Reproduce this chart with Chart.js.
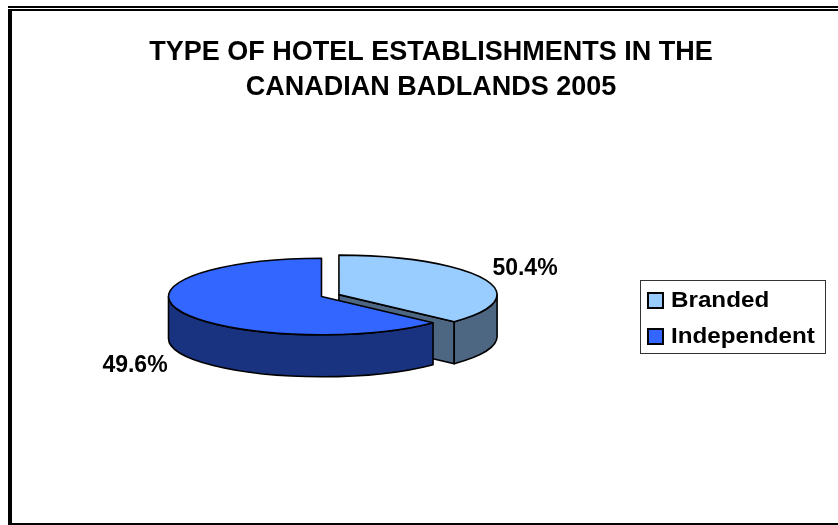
<!DOCTYPE html>
<html>
<head>
<meta charset="utf-8">
<script src="https://cdn.jsdelivr.net/npm/chart.js@4.4.0/dist/chart.umd.min.js"></script>
<style>
  html, body { margin: 0; padding: 0; background: #fff; }
  #hotelChart { display: block; }
</style>
</head>
<body>
<canvas id="hotelChart" width="838" height="525"></canvas>
<script>
const titleLines = ["TYPE OF HOTEL ESTABLISHMENTS IN THE", "CANADIAN BADLANDS 2005"];
const categories = ["Branded", "Independent"];
// share of the circle each slice covers in the drawing
const sliceShares = [37, 63];
// data labels as printed next to the slices
const percentLabels = ["50.4%", "49.6%"];
const topColors = ["#99ccff", "#3366ff"];
const sideColors = ["#4d6682", "#1a3380"];
const explode = [76, 0];

const tilt = 0.25;   // vertical squash of the pie
const depth = 42;    // height of the pie walls
const font = '"Liberation Sans", Arial, sans-serif';

function sliceGeometry(arc) {
  const off = (arc.options.offset || 0) / 4;
  const mid = (arc.startAngle + arc.endAngle) / 2;
  const fix = 1 - Math.sin(Math.min(Math.PI, arc.circumference));
  return {
    cx: arc.x + Math.cos(mid) * off,
    cy: arc.y + Math.sin(mid) * off * tilt,
    r: arc.outerRadius + off * fix,
    a0: arc.startAngle,
    a1: arc.endAngle
  };
}

function rim(g, a, dy) {
  return [g.cx + g.r * Math.cos(a), g.cy + g.r * tilt * Math.sin(a) + (dy || 0)];
}

const pie3d = {
  id: "pie3d",
  beforeDraw(chart) {
    const ctx = chart.ctx;
    ctx.save();
    ctx.fillStyle = "#000";
    ctx.fillRect(8, 6, 830, 2);
    ctx.fillRect(12, 9, 826, 2);
    ctx.fillRect(8, 9, 4, 516);
    ctx.fillRect(8, 523, 830, 2);
    ctx.restore();
  },
  beforeDatasetsDraw(chart) {
    const ctx = chart.ctx;
    const arcs = chart.getDatasetMeta(0).data;
    const geo = arcs.map(sliceGeometry);
    ctx.save();
    ctx.lineWidth = 1.6;
    ctx.strokeStyle = "#000";
    ctx.lineJoin = "round";
    // cut faces of the slices that turn towards the viewer
    geo.forEach((g, i) => {
      ctx.fillStyle = sideColors[i];
      [[g.a1, Math.cos(g.a1) > 0.01], [g.a0, Math.cos(g.a0) < -0.01]].forEach(([a, show]) => {
        if (!show) return;
        const [px, py] = rim(g, a);
        ctx.beginPath();
        ctx.moveTo(g.cx, g.cy);
        ctx.lineTo(px, py);
        ctx.lineTo(px, py + depth);
        ctx.lineTo(g.cx, g.cy + depth);
        ctx.closePath();
        ctx.fill();
        ctx.stroke();
      });
    });
    // outer walls on the front half
    geo.forEach((g, i) => {
      const s = Math.max(g.a0, 0);
      const e = Math.min(g.a1, Math.PI);
      if (s >= e) return;
      ctx.fillStyle = sideColors[i];
      ctx.beginPath();
      ctx.ellipse(g.cx, g.cy, g.r, g.r * tilt, 0, s, e);
      const [ex, ey] = rim(g, e, depth);
      ctx.lineTo(ex, ey);
      ctx.ellipse(g.cx, g.cy + depth, g.r, g.r * tilt, 0, e, s, true);
      ctx.closePath();
      ctx.fill();
      ctx.stroke();
    });
    ctx.restore();
    // squash the library's slices into the top face
    const cy = arcs[0].y;
    ctx.save();
    ctx.translate(0, cy);
    ctx.scale(1, tilt);
    ctx.translate(0, -cy);
  },
  afterDatasetsDraw(chart) {
    const ctx = chart.ctx;
    ctx.restore();
    const geo = chart.getDatasetMeta(0).data.map(sliceGeometry);
    ctx.save();
    ctx.lineWidth = 1.6;
    ctx.strokeStyle = "#000";
    ctx.lineJoin = "round";
    geo.forEach((g) => {
      ctx.beginPath();
      ctx.moveTo(g.cx, g.cy);
      ctx.ellipse(g.cx, g.cy, g.r, g.r * tilt, 0, g.a0, g.a1);
      ctx.closePath();
      ctx.stroke();
    });
    ctx.restore();
  },
  afterDraw(chart) {
    const ctx = chart.ctx;
    ctx.save();
    ctx.fillStyle = "#000";
    ctx.textAlign = "center";
    ctx.textBaseline = "middle";
    ctx.font = "bold 27px " + font;
    titleLines.forEach((line, i) => ctx.fillText(line, 431, 53 + i * 35));

    ctx.font = "bold 23px " + font;
    ctx.fillText(percentLabels[0], 525, 269);
    ctx.fillText(percentLabels[1], 135, 366);

    // legend
    ctx.lineWidth = 1;
    ctx.strokeStyle = "#333";
    ctx.strokeRect(640.5, 280.5, 185, 73);
    ctx.textAlign = "left";
    ctx.font = "bold 22px " + font;
    categories.forEach((name, i) => {
      const y = 300 + i * 36;
      ctx.fillStyle = topColors[i];
      ctx.fillRect(648, y - 7, 15, 15);
      ctx.lineWidth = 2;
      ctx.strokeStyle = "#000";
      ctx.strokeRect(648, y - 7, 15, 15);
      ctx.fillStyle = "#000";
      ctx.save();
      ctx.translate(671, y + 1);
      ctx.scale(1.1, 1);
      ctx.fillText(name, 0, 0);
      ctx.restore();
    });
    ctx.restore();
  }
};

new Chart(document.getElementById("hotelChart"), {
  type: "pie",
  data: {
    labels: categories,
    datasets: [{
      data: sliceShares,
      backgroundColor: topColors,
      borderWidth: 0,
      offset: explode
    }]
  },
  options: {
    responsive: false,
    animation: false,
    events: [],
    radius: 153,
    layout: { padding: { left: 0, right: 195, top: 68, bottom: 0 } },
    plugins: {
      legend: { display: false },
      title: { display: false },
      tooltip: { enabled: false }
    }
  },
  plugins: [pie3d]
});
</script>
</body>
</html>
